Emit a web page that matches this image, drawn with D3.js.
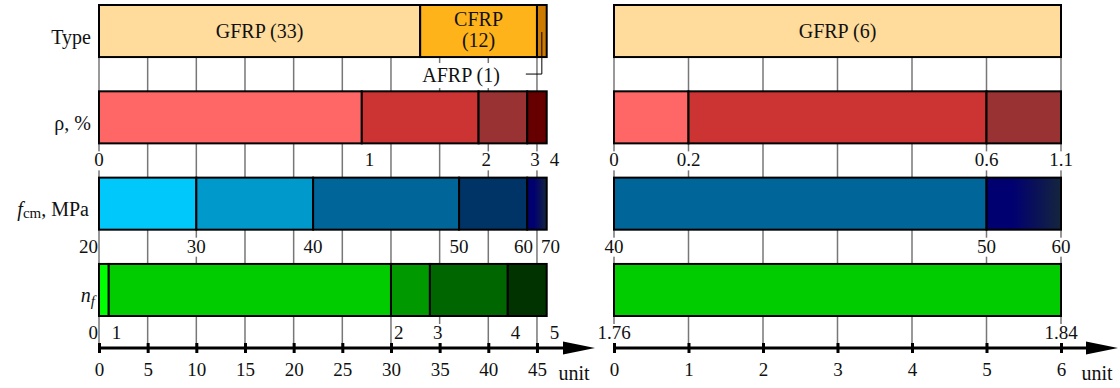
<!DOCTYPE html>
<html>
<head>
<meta charset="utf-8">
<script src="https://cdn.jsdelivr.net/npm/d3@7"></script>
<style>
  body { margin: 0; background: #fff; }
  svg text { font-family: "Liberation Serif", "Times New Roman", serif; }
</style>
</head>
<body>
<div id="chart"></div>
<script>
// one unit = one specimen
var typeNames = ["GFRP", "CFRP", "AFRP"];
var typeLeft = [33, 12, 1];
var typeRight = [6];

var rhoLeftCounts = [27, 12, 5, 2];
var rhoLeftLabels = ["0", "1", "2", "3", "4"];
var rhoRightCounts = [1, 4, 1];
var rhoRightLabels = ["0", "0.2", "0.6", "1.1"];

var fcmLeftCounts = [10, 12, 15, 7, 2];
var fcmLeftLabels = ["20", "30", "40", "50", "60", "70"];
var fcmRightCounts = [5, 1];
var fcmRightLabels = ["40", "50", "60"];

var nfLeftCounts = [1, 29, 4, 8, 4];
var nfLeftLabels = ["0", "1", "2", "3", "4", "5"];
var nfRightCounts = [6];
var nfRightLabels = ["1.76", "1.84"];

var unitTicksLeft = [0, 5, 10, 15, 20, 25, 30, 35, 40, 45];
var unitTicksRight = [0, 1, 2, 3, 4, 5, 6];

var width = 1120, height = 388;
var axisY = 348;

var svg = d3.select("#chart").append("svg")
    .attr("width", width)
    .attr("height", height);

var grad = svg.append("defs").append("linearGradient").attr("id", "hiFcm");
grad.append("stop").attr("offset", "0%").attr("stop-color", "#000070");
grad.append("stop").attr("offset", "35%").attr("stop-color", "#000070");
grad.append("stop").attr("offset", "100%").attr("stop-color", "#15253d");

var rows = ["type", "rho", "fcm", "nf"];
var y = d3.scaleBand().domain(rows).range([5, 316]).paddingInner(0.397).paddingOuter(0);
var barH = y.bandwidth();

var panels = [
    {
        x: d3.scaleLinear().domain([0, 46]).range([99, 546.7]),
        ticks: unitTicksLeft, tip: 595,
        type: typeLeft, typeColors: ["#ffdc9c", "#ffb31a", "#cc7a00"],
        rho: rhoLeftCounts, rhoLabels: rhoLeftLabels, rhoColors: ["#ff6666", "#cc3333", "#993333", "#660000"],
        fcm: fcmLeftCounts, fcmLabels: fcmLeftLabels, fcmColors: ["#00c8fa", "#0099cc", "#006699", "#003366", "url(#hiFcm)"],
        nf: nfLeftCounts, nfLabels: nfLeftLabels, nfColors: ["#00ff00", "#00cc00", "#009900", "#006600", "#003300"],
        mode: { rho: ["middle", "start"], fcm: ["end", "middle"], nf: ["end", "start"] }
    },
    {
        x: d3.scaleLinear().domain([0, 6]).range([614, 1061]),
        ticks: unitTicksRight, tip: 1118,
        type: typeRight, typeColors: ["#ffdc9c"],
        rho: rhoRightCounts, rhoLabels: rhoRightLabels, rhoColors: ["#ff6666", "#cc3333", "#993333"],
        fcm: fcmRightCounts, fcmLabels: fcmRightLabels, fcmColors: ["#006699", "url(#hiFcm)"],
        nf: nfRightCounts, nfLabels: nfRightLabels, nfColors: ["#00cc00"],
        mode: { rho: ["middle", "middle"], fcm: ["middle", "middle"], nf: ["middle", "middle"] }
    }
];

var dxFor = { start: 3, middle: 0, end: -1 };

function segments(counts) {
    var ends = Array.from(d3.cumsum(counts));
    return counts.map(function(c, i) { return { i: i, from: ends[i] - c, to: ends[i], n: c }; });
}

// push apart neighbouring labels that would touch
function spread(sel) {
    var nodes = sel.nodes();
    for (var i = 1; i < nodes.length; i++) {
        var a = nodes[i - 1].getBBox(), b = nodes[i].getBBox();
        var gap = b.x - (a.x + a.width);
        if (gap < 8) {
            var s = (8 - gap) / 2;
            d3.select(nodes[i - 1]).attr("x", +d3.select(nodes[i - 1]).attr("x") - s);
            d3.select(nodes[i]).attr("x", +d3.select(nodes[i]).attr("x") + s);
        }
    }
}

panels.forEach(function(p) {
    var x = p.x;
    var g = svg.append("g");

    // grid lines behind the bars
    g.append("g").selectAll("line")
        .data(p.ticks)
        .enter().append("line")
        .attr("x1", function(d) { return x(d); })
        .attr("x2", function(d) { return x(d); })
        .attr("y1", y("type") + barH)
        .attr("y2", axisY)
        .attr("stroke", "#777")
        .attr("stroke-width", 1.5);

    rows.forEach(function(r) {
        var segs = segments(p[r]);
        var colors = r == "type" ? p.typeColors : p[r + "Colors"];
        g.append("g").selectAll("rect")
            .data(segs)
            .enter().append("rect")
            .attr("x", function(d) { return x(d.from); })
            .attr("y", y(r))
            .attr("width", function(d) { return x(d.to) - x(d.from); })
            .attr("height", barH)
            .attr("fill", function(d) { return colors[d.i]; })
            .attr("stroke", "#000")
            .attr("stroke-width", 2);

        if (r == "type") return;

        // boundary values under each bar, knocked out of the grid
        var bounds = [0].concat(segs.map(function(d) { return d.to; }));
        var mode = p.mode[r];
        var bg = g.append("g");
        var labels = g.append("g").selectAll("text")
            .data(p[r + "Labels"])
            .enter().append("text")
            .attr("x", function(d, i) { return x(bounds[i]) + dxFor[mode[i == 0 ? 0 : 1]]; })
            .attr("y", y(r) + barH + 23)
            .attr("text-anchor", function(d, i) { return mode[i == 0 ? 0 : 1]; })
            .attr("font-size", 19)
            .attr("fill", "#111")
            .text(function(d) { return d; });
        spread(labels);
        labels.each(function() {
            var bb = this.getBBox();
            bg.append("rect")
                .attr("x", bb.x).attr("y", bb.y + 2)
                .attr("width", bb.width).attr("height", bb.height - 2)
                .attr("fill", "#fff");
        });
    });

    // fibre type names
    var cy = y("type") + barH / 2;
    var tg = g.append("g");
    segments(p.type).forEach(function(d) {
        var x0 = x(d.from), x1 = x(d.to), cx = (x0 + x1) / 2;
        var label = typeNames[d.i] + " (" + d.n + ")";
        if (x1 - x0 < 30) {
            var box = tg.append("rect").attr("fill", "#fff");
            var t = tg.append("text")
                .attr("x", cx - 42)
                .attr("y", y("type") + barH + 25)
                .attr("text-anchor", "end")
                .attr("font-size", 20)
                .attr("fill", "#111")
                .text(label);
            var bb = t.node().getBBox();
            box.attr("x", bb.x - 6).attr("y", bb.y - 1)
                .attr("width", bb.width + 12).attr("height", bb.height + 2);
            tg.append("path")
                .attr("d", "M" + cx + "," + (cy + 1) + "V" + (y("type") + barH + 17) + "h-16")
                .attr("fill", "none")
                .attr("stroke", "#000")
                .attr("stroke-width", 1);
        } else if (x1 - x0 < 130) {
            tg.append("text").attr("x", cx).attr("y", cy - 5)
                .attr("text-anchor", "middle").attr("font-size", 20).attr("fill", "#111")
                .text(typeNames[d.i]);
            tg.append("text").attr("x", cx).attr("y", cy + 16)
                .attr("text-anchor", "middle").attr("font-size", 20).attr("fill", "#111")
                .text("(" + d.n + ")");
        } else {
            tg.append("text").attr("x", cx).attr("y", cy + 7)
                .attr("text-anchor", "middle").attr("font-size", 20).attr("fill", "#111")
                .text(label);
        }
    });

    // unit axis with arrow
    var ax = g.append("g")
        .attr("transform", "translate(0," + axisY + ")")
        .call(d3.axisBottom(x).tickValues(p.ticks).tickFormat(d3.format("d"))
            .tickSizeInner(5).tickSizeOuter(0).tickPadding(10));
    ax.select(".domain").remove();
    ax.selectAll(".tick line").attr("y1", -5).attr("y2", 5).attr("stroke", "#000").attr("stroke-width", 3);
    ax.selectAll(".tick text")
        .attr("font-size", 19)
        .attr("fill", "#111");
    ax.append("line")
        .attr("x1", x(0)).attr("x2", p.tip - 20)
        .attr("stroke", "#000").attr("stroke-width", 3);
    ax.append("path")
        .attr("d", "M" + (p.tip - 32) + ",-6.5L" + p.tip + ",0L" + (p.tip - 32) + ",6.5Z")
        .attr("fill", "#000");
    ax.append("text")
        .attr("x", p.tip - 21)
        .attr("y", 32)
        .attr("text-anchor", "middle")
        .attr("font-size", 20)
        .attr("fill", "#111")
        .text("unit");
});

// row titles
var titles = svg.append("g").attr("font-size", 20).attr("fill", "#111").attr("text-anchor", "end");
titles.append("text").attr("x", 91).attr("y", y("type") + barH / 2 + 13).text("Type");
titles.append("text").attr("x", 91).attr("y", y("rho") + barH / 2 + 13).text("ρ, %");
var tf = titles.append("text").attr("x", 89).attr("y", y("fcm") + barH / 2 + 12.5);
tf.append("tspan").attr("font-style", "italic").text("f");
tf.append("tspan").attr("font-size", 15).attr("dy", 2).text("cm");
tf.append("tspan").attr("dy", -2).text(", MPa");
var tn = titles.append("text").attr("x", 95).attr("y", y("nf") + barH / 2 + 12);
tn.append("tspan").attr("font-style", "italic").text("n");
tn.append("tspan").attr("font-style", "italic").attr("font-size", 15).attr("dy", 4).text("f");
</script>
</body>
</html>
